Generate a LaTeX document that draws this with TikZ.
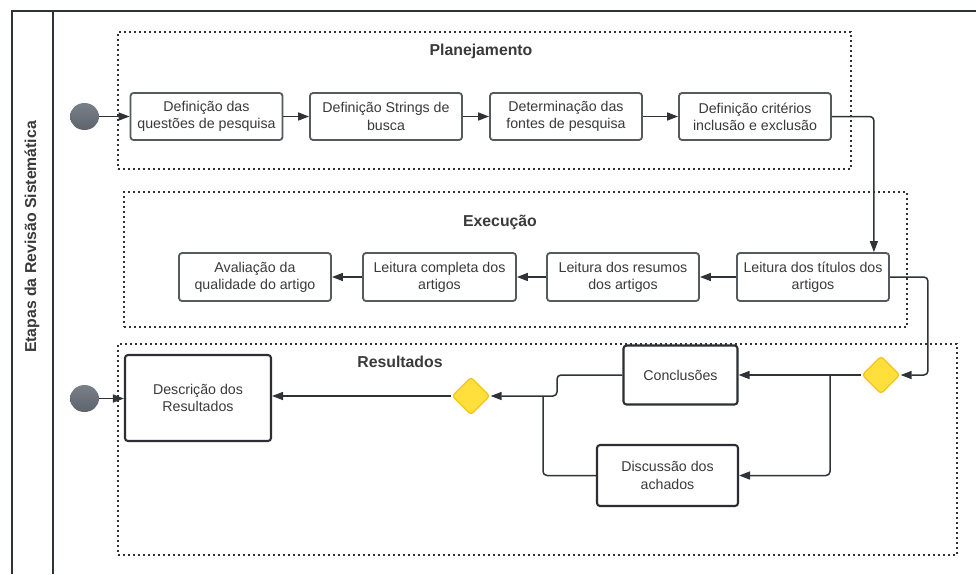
\documentclass[tikz,border=0pt]{standalone}
\usepackage{fontspec}
\setmainfont{Liberation Sans}
\usetikzlibrary{arrows.meta,calc,shapes.geometric}
\definecolor{ln}{HTML}{2F3237}
\definecolor{bx}{HTML}{56595E}
\definecolor{bxd}{HTML}{2C2E33}
\definecolor{tx}{HTML}{3A3A3A}
\definecolor{yel}{HTML}{FFDF3C}
\definecolor{yelb}{HTML}{F5C51F}
\definecolor{ctop}{HTML}{7A8089}
\definecolor{cbot}{HTML}{5E636C}
\tikzset{
  proc/.style={draw=bx, fill=white, line width=1.8pt, rounded corners=3pt, minimum width=152pt, minimum height=47pt, align=center, font=\fontsize{14.2}{17.3}\selectfont, text=tx, inner sep=0pt},
  resbox/.style={draw=bxd, fill=white, line width=2.1pt, rounded corners=3pt, align=center, font=\fontsize{14.2}{17.3}\selectfont, text=tx, inner sep=0pt},
  gate/.style={diamond, draw=yelb, fill=yel, line width=1.3pt, minimum width=38pt, minimum height=38pt, inner sep=0pt, rounded corners=3pt},
  startev/.style={ellipse, top color=ctop, bottom color=cbot, draw=none, minimum width=29pt, minimum height=27pt, inner sep=0pt},
  grp/.style={draw=ln, line width=1.8pt, dash pattern=on 1.6pt off 3.4pt, minimum width=#1, inner sep=0pt},
  ttl/.style={font=\fontsize{15.8}{18}\selectfont\bfseries, text=tx, inner sep=0pt},
  conn/.style={draw=ln, line width=1.5pt, rounded corners=4pt},
  arr/.style={conn, -{Triangle[length=11pt,width=8pt]}},
  frame/.style={draw=ln, line width=2pt}
}
\begin{document}
\begin{tikzpicture}[x=1pt,y=-1pt]
\useasboundingbox (0,0) rectangle (976,574);
% lane frame
\draw[frame] (12,574) -- (12,11) -- (976,11);
\draw[frame] (53,11) -- (53,574);
\node[ttl, rotate=90] (lane) at (32,237) {Etapas da Revisão Sistemática};
% groups
\node[grp=733pt, minimum height=137pt] (gplan) at (484.5,100.5) {};
\node[grp=783pt, minimum height=135pt] (gexec) at (515.5,259.5) {};
\node[grp=839pt, minimum height=211pt] (gres) at (537.5,449.5) {};
\node[ttl] (tplan) at (481,51) {Planejamento};
\node[ttl] (texec) at (500,222) {Execução};
\node[ttl] (tres) at (400,362) {Resultados};
% planning
\node[startev] (s1) at (84.5,116.5) {};
\node[proc] (p1) at (206.5,116.5) {Definição das\\questões de pesquisa};
\node[proc] (p2) at (386,116.5) {Definição Strings de\\busca};
\node[proc] (p3) at (566,116.5) {Determinação das\\fontes de pesquisa};
\node[proc] (p4) at (755,116.5) {Definição critérios\\inclusão e exclusão};
% execution
\node[proc, minimum height=48pt] (e4) at (255,277) {Avaliação da\\qualidade do artigo};
\node[proc, minimum height=48pt, minimum width=153pt] (e3) at (439.5,277) {Leitura completa dos\\artigos};
\node[proc, minimum height=48pt] (e2) at (623,277) {Leitura dos resumos\\dos artigos};
\node[proc, minimum height=48pt] (e1) at (813,277) {Leitura dos títulos dos\\artigos};
% results
\node[startev] (s2) at (84.5,398.5) {};
\node[resbox, minimum width=146pt, minimum height=86pt] (desc) at (198,398) {Descrição dos\\Resultados};
\node[resbox, minimum width=114pt, minimum height=59pt] (conc) at (680.5,375) {Conclusões};
\node[resbox, minimum width=141pt, minimum height=61pt] (disc) at (667.5,475.5) {Discussão dos\\achados};
\node[gate] (g1) at (881,375) {};
\node[gate] (g2) at (471,396) {};
\coordinate (br) at (830,375);
\coordinate (m1) at (557,396);
\coordinate (m2) at (543,396);
% connectors
\draw[arr] (s1) -- (p1);
\draw[arr] (p1) -- (p2);
\draw[arr] (p2) -- (p3);
\draw[arr] (p3) -- (p4);
\draw[arr] (p4.east) -| ([xshift=-16pt]e1.north east);
\draw[arr] (e1) -- (e2);
\draw[arr] (e2) -- (e3);
\draw[arr] (e3) -- (e4);
\draw[arr] (e1.east) -- ++(38,0) |- (g1.east);
\draw[arr] (g1) -- (conc);
\draw[arr] (br) |- (disc.east);
\draw[arr] (conc.west) -| (m1) -- (g2.east);
\draw[conn] (disc.west) -| (m2);
\draw[arr] (g2.west) -- (g2.west -| desc.east);
\draw[arr] (s2) -- (s2 -| desc.west);
\end{tikzpicture}
\end{document}
